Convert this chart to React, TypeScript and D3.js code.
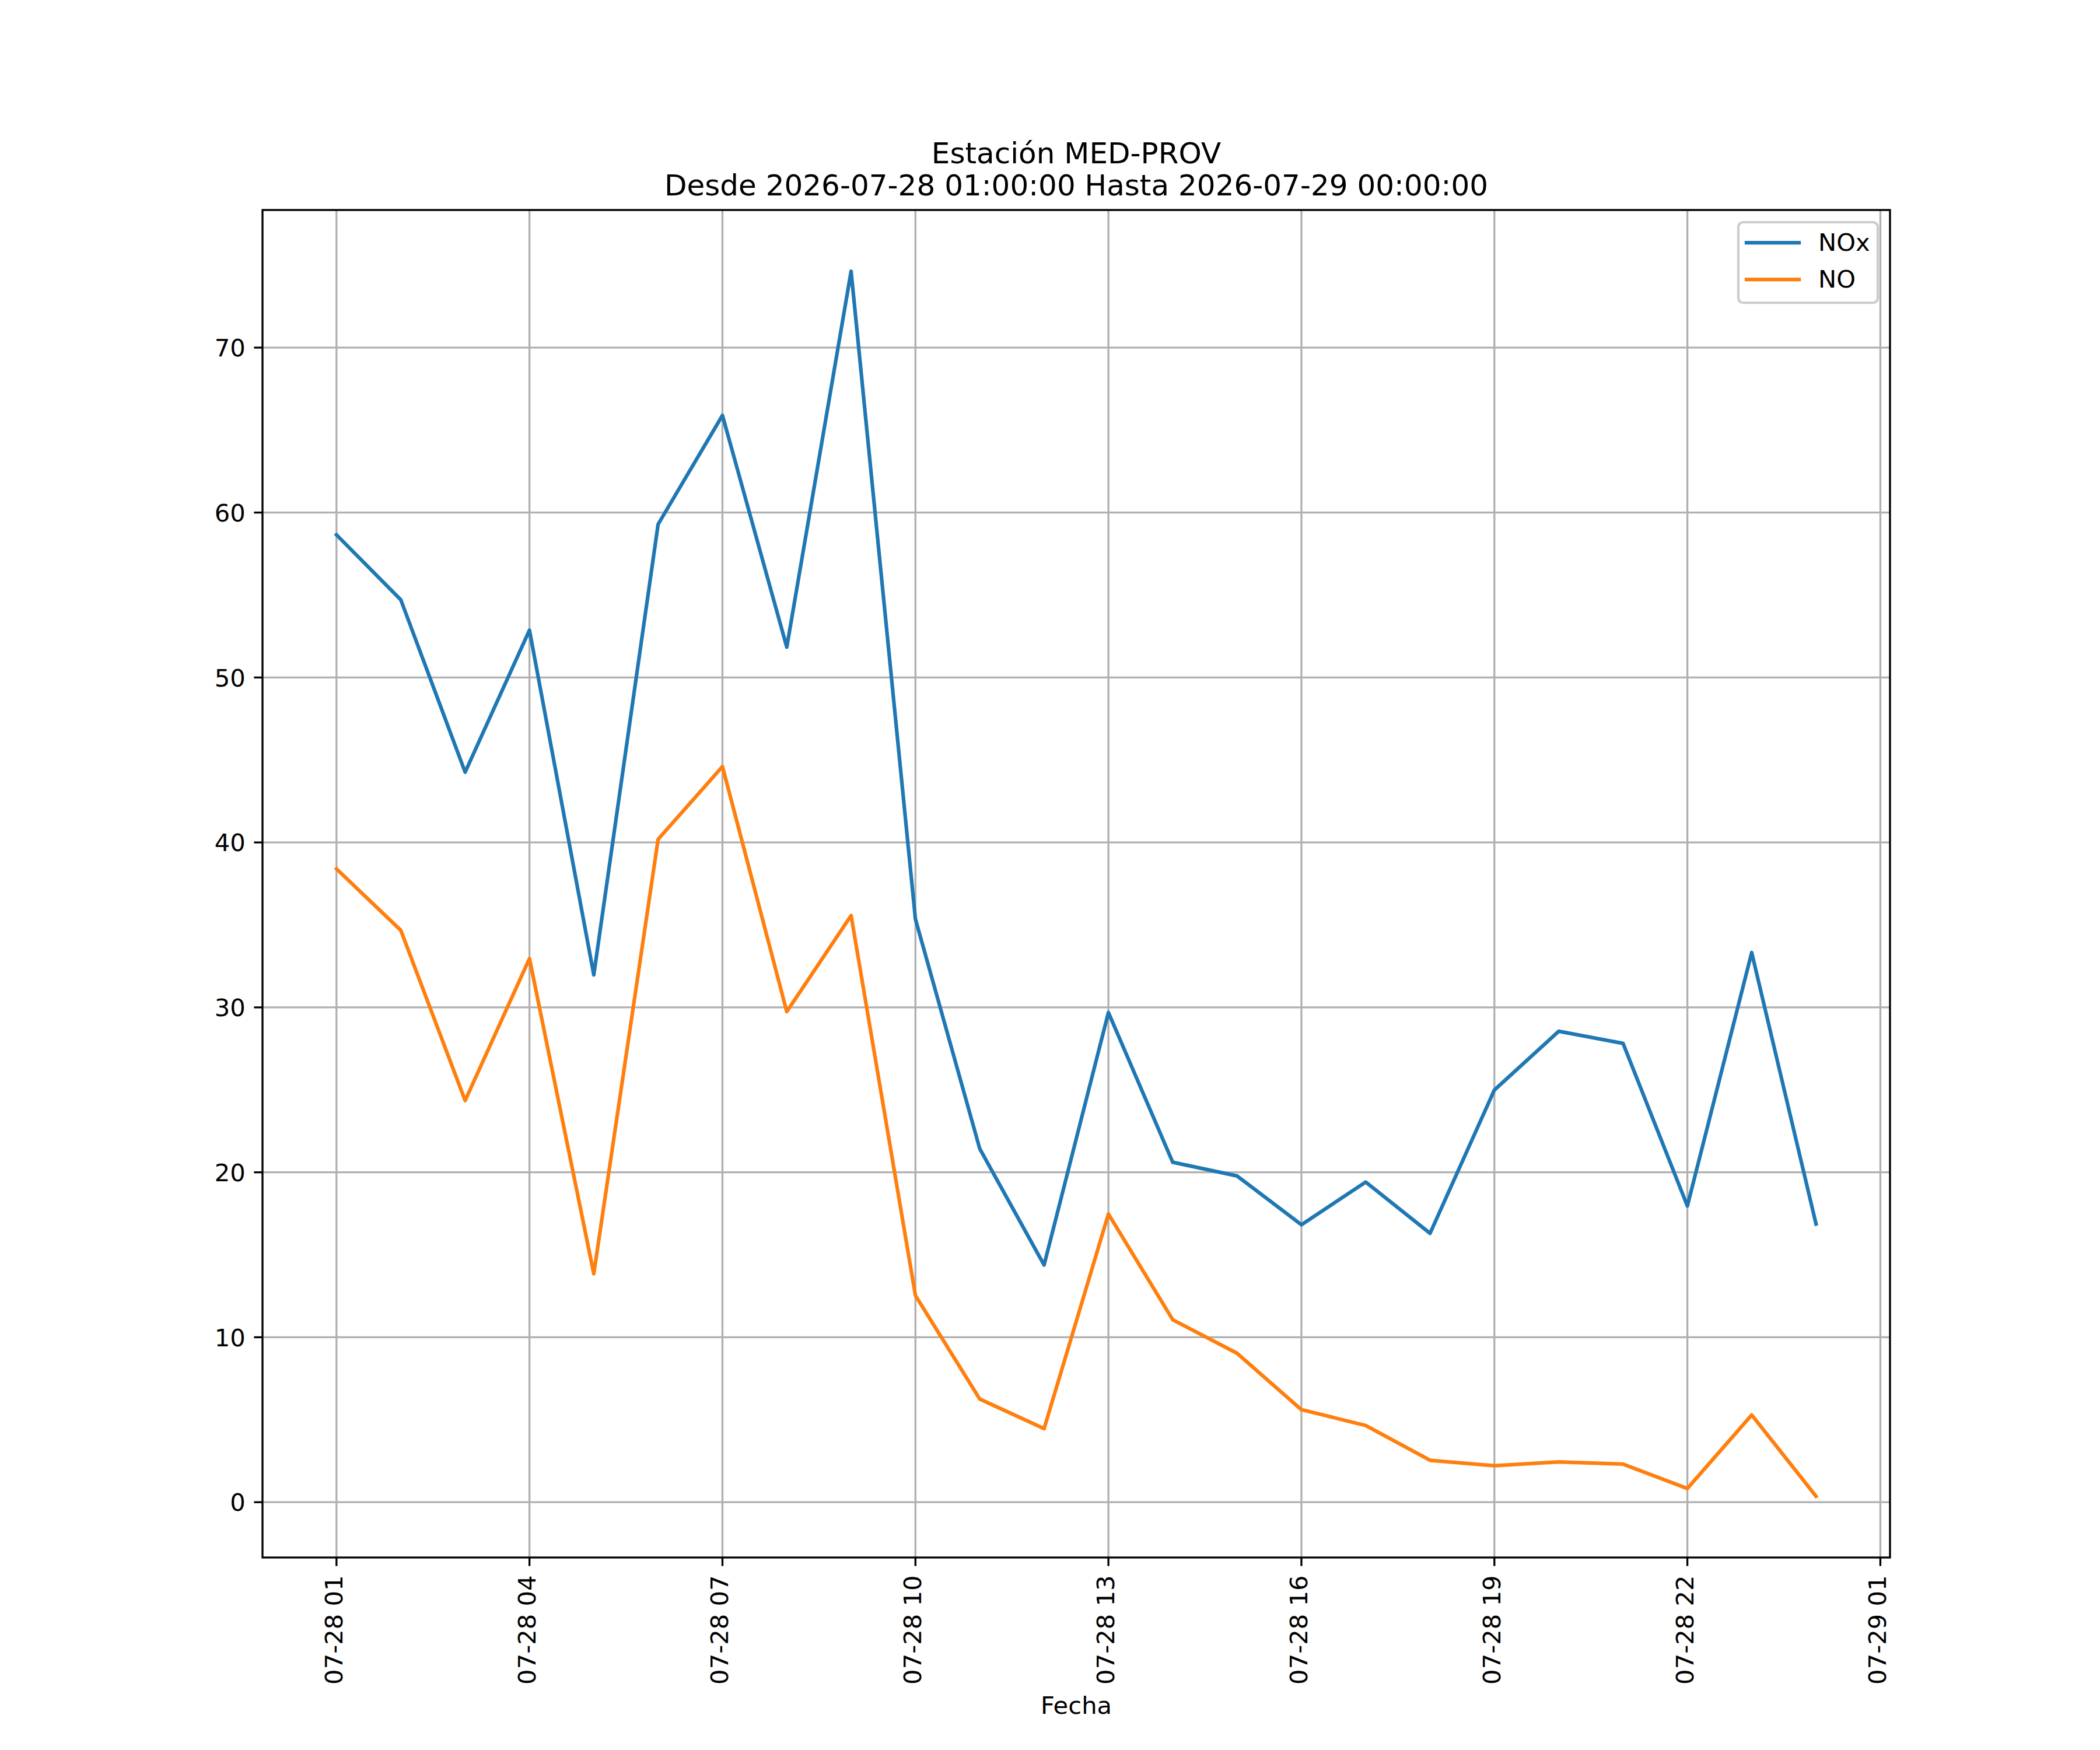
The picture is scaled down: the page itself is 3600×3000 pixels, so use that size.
import React from "react";
import * as d3 from "d3";

const TIMES = [
  "2026-07-28 01:00", "2026-07-28 02:00", "2026-07-28 03:00", "2026-07-28 04:00",
  "2026-07-28 05:00", "2026-07-28 06:00", "2026-07-28 07:00", "2026-07-28 08:00",
  "2026-07-28 09:00", "2026-07-28 10:00", "2026-07-28 11:00", "2026-07-28 12:00",
  "2026-07-28 13:00", "2026-07-28 14:00", "2026-07-28 15:00", "2026-07-28 16:00",
  "2026-07-28 17:00", "2026-07-28 18:00", "2026-07-28 19:00", "2026-07-28 20:00",
  "2026-07-28 21:00", "2026-07-28 22:00", "2026-07-28 23:00", "2026-07-29 00:00",
];

const NOX = [
  58.65, 54.71, 44.26, 52.87, 31.97, 59.29, 65.89, 51.84, 74.63, 35.35, 21.43, 14.38,
  29.69, 20.61, 19.78, 16.82, 19.41, 16.3, 24.99, 28.55, 27.82, 17.96, 33.32, 16.87,
];

const NO = [
  38.4, 34.67, 24.35, 32.96, 13.85, 40.19, 44.6, 29.74, 35.57, 12.53, 6.25, 4.46,
  17.47, 11.06, 9.03, 5.61, 4.65, 2.54, 2.21, 2.44, 2.31, 0.83, 5.29, 0.36,
];

const SERIES_NAMES = ["NOx", "NO"];
const SERIES_COLORS = ["#1f77b4", "#ff7f0e"];
const Y_TICKS = [0, 10, 20, 30, 40, 50, 60, 70];
const TITLE_LINES = ["Estación MED-PROV", "Desde 2026-07-28 01:00:00 Hasta 2026-07-29 00:00:00"];
const X_LABEL = "Fecha";

const W = 3600;
const H = 3000;
const L = 450, R = 3240, T = 360, B = 2670;
const FONT = "'DejaVu Sans', sans-serif";
const FS = 41.67;
const LW = 3.33;
const TICK = 14.58;

export default function App() {
  const parse = d3.timeParse("%Y-%m-%d %H:%M");
  const dates = TIMES.map((t) => parse(t) as Date);
  const t0 = +dates[0];
  const t1 = +dates[dates.length - 1];
  const xm = (t1 - t0) * 0.05;
  const x = d3.scaleTime().domain([new Date(t0 - xm), new Date(t1 + xm)]).range([L, R]);

  const all = [...NOX, ...NO];
  const lo = d3.min(all) as number;
  const hi = d3.max(all) as number;
  const ym = (hi - lo) * 0.05;
  const y = d3.scaleLinear().domain([lo - ym, hi + ym]).range([B, T]);

  const xTicks = d3.timeHour.range(dates[0], new Date(t1 + 2 * 3600 * 1000), 3)
    .filter((d) => +d <= +x.domain()[1]);
  const fmt = d3.timeFormat("%m-%d %H");

  const line = d3
    .line<number>()
    .x((_, i) => x(dates[i]))
    .y((v) => y(v));

  const series = [NOX, NO];

  return (
    <svg
      width={W}
      height={H}
      viewBox={`0 0 ${W} ${H}`}
      style={{ position: "absolute", left: 0, top: 0, background: "#fff" }}
      fontFamily={FONT}
    >
      <rect x={0} y={0} width={W} height={H} fill="#fff" />
      <defs>
        <clipPath id="plot">
          <rect x={L} y={T} width={R - L} height={B - T} />
        </clipPath>
      </defs>
      {/* grid */}
      <g stroke="#b0b0b0" strokeWidth={LW}>
        {xTicks.map((d, i) => (
          <line key={"gx" + i} x1={x(d)} x2={x(d)} y1={T} y2={B} />
        ))}
        {Y_TICKS.map((v) => (
          <line key={"gy" + v} x1={L} x2={R} y1={y(v)} y2={y(v)} />
        ))}
      </g>
      {/* lines */}
      <g clipPath="url(#plot)" fill="none">
        {series.map((s, i) => (
          <path
            key={SERIES_NAMES[i]}
            d={line(s) as string}
            stroke={SERIES_COLORS[i]}
            strokeWidth={6.25}
            strokeLinejoin="round"
            strokeLinecap="square"
          />
        ))}
      </g>
      {/* spines */}
      <rect x={L} y={T} width={R - L} height={B - T} fill="none" stroke="#000" strokeWidth={LW} />
      {/* y ticks */}
      {Y_TICKS.map((v) => (
        <g key={"yt" + v}>
          <line x1={L - TICK} x2={L} y1={y(v)} y2={y(v)} stroke="#000" strokeWidth={LW} />
          <text x={L - TICK - 14.6} y={y(v) + 15.2} textAnchor="end" fontSize={FS} fill="#000">
            {String(v)}
          </text>
        </g>
      ))}
      {/* x ticks */}
      {xTicks.map((d, i) => (
        <g key={"xt" + i}>
          <line x1={x(d)} x2={x(d)} y1={B} y2={B + TICK} stroke="#000" strokeWidth={LW} />
          <text
            transform={`translate(${x(d) + 10},${B + TICK + 16}) rotate(-90)`}
            textAnchor="end"
            fontSize={FS}
            fill="#000"
          >
            {fmt(d)}
          </text>
        </g>
      ))}
      {/* x label */}
      <text x={(L + R) / 2} y={2937.5} textAnchor="middle" fontSize={FS} fill="#000">
        {X_LABEL}
      </text>
      {/* title */}
      <text x={(L + R) / 2} y={280} textAnchor="middle" fontSize={50} fill="#000">
        {TITLE_LINES[0]}
      </text>
      <text x={(L + R) / 2} y={335} textAnchor="middle" fontSize={50} fill="#000">
        {TITLE_LINES[1]}
      </text>
      {/* legend */}
      <g>
        <rect
          x={2980}
          y={381}
          width={239}
          height={138}
          rx={8}
          ry={8}
          fill="#fff"
          fillOpacity={0.8}
          stroke="#cccccc"
          strokeWidth={4.17}
        />
        {SERIES_NAMES.map((n, i) => (
          <g key={"lg" + n}>
            <line
              x1={2994}
              x2={3084}
              y1={416 + i * 63}
              y2={416 + i * 63}
              stroke={SERIES_COLORS[i]}
              strokeWidth={6.25}
              strokeLinecap="square"
            />
            <text x={3117} y={430 + i * 63} fontSize={FS} fill="#000">
              {n}
            </text>
          </g>
        ))}
      </g>
    </svg>
  );
}
